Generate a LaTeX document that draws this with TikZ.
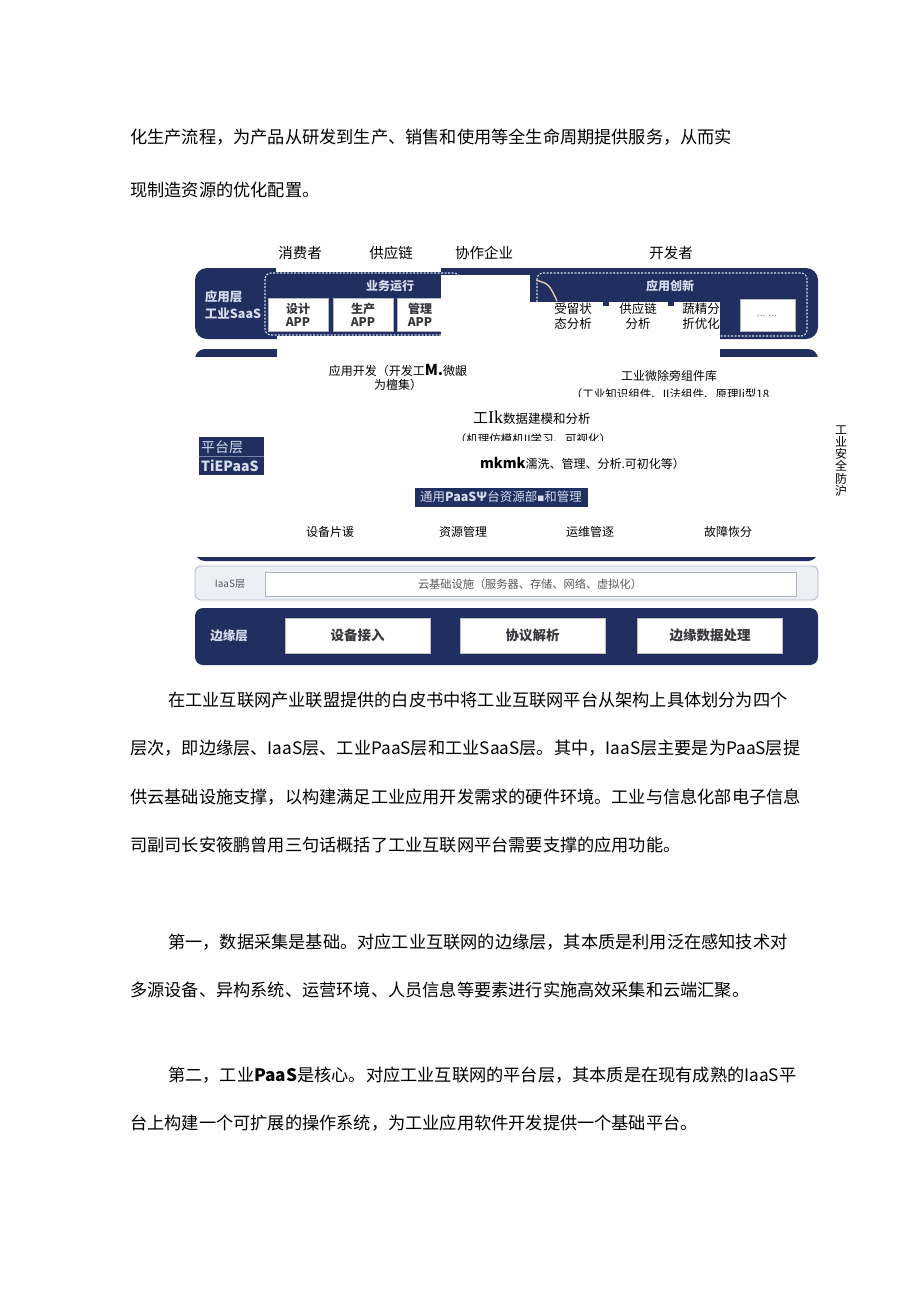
\documentclass[tikz,border=0pt]{standalone}
\usepackage{fontspec}
\setmainfont{Noto Sans CJK SC}
\newfontfamily\serifr{Liberation Serif}
\definecolor{navy}{RGB}{32,46,96}
\definecolor{lbl}{RGB}{214,220,236}
\definecolor{iaasfill}{RGB}{236,239,246}
\definecolor{iaasdraw}{RGB}{172,180,198}
\definecolor{boxtext}{RGB}{55,55,62}
\definecolor{peach}{RGB}{236,196,170}
\definecolor{greytext}{RGB}{85,85,95}
\begin{document}
\begin{tikzpicture}[x=1pt,y=-1pt,
  body/.style={anchor=west,inner sep=0pt,font=\fontsize{17.2}{20}\selectfont},
  toplbl/.style={inner sep=0pt,font=\fontsize{14.5}{16}\selectfont},
  mask/.style={fill=white,draw=none},
  dashbox/.style={draw=lbl,dashed,line width=1.1pt,rounded corners=6pt,dash pattern=on 2pt off 1.5pt},
  appbox/.style={fill=white,draw=lbl!60!gray,line width=0.5pt},
  apptxt/.style={inner sep=0pt,align=center,text=boxtext,font=\bfseries\fontsize{12}{13.5}\selectfont},
  newtxt/.style={inner sep=0pt,align=center,font=\fontsize{12.5}{15.5}\selectfont},
  hdr/.style={inner sep=0pt,text=lbl,font=\bfseries\fontsize{12}{14}\selectfont},
  plattxt/.style={inner sep=0pt,font=\fontsize{12}{14}\selectfont},
  edgebox/.style={fill=white,draw=gray!50,line width=0.5pt,minimum width=145pt,minimum height=35pt,inner sep=0pt,text=boxtext,font=\bfseries\fontsize{13.5}{15}\selectfont}
]
\useasboundingbox (0,0) rectangle (920,1301);

% ---------- text above diagram ----------
\node[body] (t1) at (130,137) {化生产流程，为产品从研发到生产、销售和使用等全生命周期提供服务，从而实};
\node[body] (t2) at (130,190) {现制造资源的优化配置。};

% ---------- application layer ----------
\fill[navy,rounded corners=12pt] (195,268) rectangle (818,339);
\draw[dashbox] (265,273) rectangle (460,335);
\draw[dashbox] (537,273) rectangle (807,336);
\draw[appbox] (268,298) rectangle (328,331);
\draw[appbox] (333,298) rectangle (393,331);
\draw[appbox] (397,298) rectangle (457,331);
% scan masks
\fill[mask] (276,236) rectangle (441,272);
\fill[mask] (441,275) rectangle (530,340);
\fill[mask] (530,302) rectangle (720,357);
\fill[mask] (277,336) rectangle (720,357);
\fill[navy] (603,300) rectangle (609,306);
\fill[navy] (668,300) rectangle (674,306);
\draw[peach,line width=1.4pt] (536,280) .. controls (549,284) .. (557,301);
\draw[appbox] (740,299) rectangle (795,331);

\node[inner sep=0pt,text=lbl,align=left,font=\bfseries\fontsize{12.5}{17}\selectfont] (saas) at (233,305) {应用层\\工业SaaS};
\node[hdr] (yw) at (390,286) {业务运行};
\node[hdr] (cx) at (670,286) {应用创新};
\node[apptxt] (a1) at (298,315) {设计\\APP};
\node[apptxt] (a2) at (363,315) {生产\\APP};
\node[apptxt] (a3) at (420,315) {管理\\APP};
\node[newtxt] (b1) at (573,316) {受留状\\态分析};
\node[newtxt] (b2) at (638,316) {供应链\\分析};
\node[newtxt] (b3) at (701,316) {蔬精分\\折优化};
\node[inner sep=0pt,text=gray,font=\fontsize{10}{12}\selectfont] (dots) at (767,316) {... ...};

\node[toplbl] (u1) at (300,253) {消费者};
\node[toplbl] (u2) at (391,253) {供应链};
\node[toplbl] (u3) at (484,253) {协作企业};
\node[toplbl] (u4) at (671,253) {开发者};

% ---------- platform layer ----------
\fill[navy,rounded corners=10pt] (195,349) rectangle (818,561);
\fill[mask] (190,357) rectangle (826,557);
\fill[mask] (277,339) rectangle (720,357);

\node[plattxt,align=center] (dev) at (398,377) {应用开发（开发工{\bfseries\fontsize{15}{15}\selectfont M.}微龈\\为檀集）};
\node[plattxt] (lib) at (669,376) {工业微除旁组件库};
\begin{scope}
\clip (540,380) rectangle (800,396);
\node[inner sep=0pt,font=\fontsize{11.5}{13}\selectfont] (libsub) at (670,394) {（工业知识组件、II法组件、原理li型18};
\end{scope}
\node[inner sep=0pt,anchor=west,font=\fontsize{12.5}{14}\selectfont] (model) at (473,418) {{\fontsize{15}{15}\selectfont 工}{\serifr\fontsize{18}{18}\selectfont Ik}数据建模和分析};
\begin{scope}
\clip (440,428) rectangle (640,440);
\node[inner sep=0pt,font=\fontsize{11.5}{13}\selectfont] (modsub) at (533,439) {（机理仿模机II学习、可视化）};
\end{scope}
\node[inner sep=0pt,anchor=west,font=\fontsize{12}{14}\selectfont] (mk) at (480,463) {{\bfseries\fontsize{14}{14}\selectfont mkmk}濡洗、管理、分析.可初化等）};

\node[fill=navy,minimum width=173pt,minimum height=19pt,inner sep=0pt,text=lbl,font=\fontsize{12.5}{14}\selectfont] (res) at (501,497) {通用{\bfseries PaaSΨ}台资源部{\fontsize{7}{7}\selectfont ■}和管理};

\node[fill=navy,minimum width=65pt,minimum height=38pt,inner sep=0pt] (platbox) at (231.5,456) {};
\draw[navy!60!white,line width=0.6pt] (platbox.west) -- (platbox.east);
\node[inner sep=0pt,anchor=west,text=lbl,font=\fontsize{14}{15}\selectfont] (plat1) at (201,447) {平台层};
\node[inner sep=0pt,anchor=west,text=lbl,font=\bfseries\fontsize{14}{15}\selectfont] (plat2) at (201,466) {TiEPaaS};

\node[plattxt] (r1) at (330,532) {设备片谖};
\node[plattxt] (r2) at (463,532) {资源管理};
\node[plattxt] (r3) at (590,532) {运维管逐};
\node[plattxt] (r4) at (728,532) {故障恢分};

\node[inner sep=0pt,align=center,font=\fontsize{12}{12.2}\selectfont] (sec) at (841,461) {工\\业\\安\\全\\防\\沪};

% ---------- IaaS layer ----------
\draw[fill=iaasfill,draw=iaasdraw,line width=0.8pt,rounded corners=6pt] (195,566) rectangle (818,600);
\draw[fill=white,draw=iaasdraw,line width=0.6pt] (265,572) rectangle (796,596);
\node[inner sep=0pt,text=greytext,font=\fontsize{10}{12}\selectfont] (iaas) at (230,584) {IaaS层};
\node[inner sep=0pt,text=greytext,font=\fontsize{11.2}{13}\selectfont] (cloud) at (530,584) {云基础设施（服务器、存储、网络、虚拟化）};

% ---------- edge layer ----------
\fill[navy,rounded corners=8pt] (195,608) rectangle (818,665);
\node[inner sep=0pt,text=lbl,font=\bfseries\fontsize{12.5}{14}\selectfont] (edge) at (229,636) {边缘层};
\node[edgebox] (e1) at (357.5,635.5) {设备接入};
\node[edgebox] (e2) at (532.5,635.5) {协议解析};
\node[edgebox] (e3) at (710,635.5) {边缘数据处理};

% ---------- text below diagram ----------
\node[body] (p1) at (168,700) {在工业互联网产业联盟提供的白皮书中将工业互联网平台从架构上具体划分为四个};
\node[body] (p2) at (130,748) {层次，即边缘层、IaaS层、工业PaaS层和工业SaaS层。其中，IaaS层主要是为PaaS层提};
\node[body] (p3) at (130,797) {供云基础设施支撑，以构建满足工业应用开发需求的硬件环境。工业与信息化部电子信息};
\node[body] (p4) at (130,845) {司副司长安筱鹏曾用三句话概括了工业互联网平台需要支撑的应用功能。};
\node[body] (q1) at (168,942) {第一，数据采集是基础。对应工业互联网的边缘层，其本质是利用泛在感知技术对};
\node[body] (q2) at (130,990) {多源设备、异构系统、运营环境、人员信息等要素进行实施高效采集和云端汇聚。};
\node[body] (s1) at (168,1075) {第二，工业{\bfseries PaaS}是核心。对应工业互联网的平台层，其本质是在现有成熟的IaaS平};
\node[body] (s2) at (130,1123) {台上构建一个可扩展的操作系统，为工业应用软件开发提供一个基础平台。};
\end{tikzpicture}
\end{document}
